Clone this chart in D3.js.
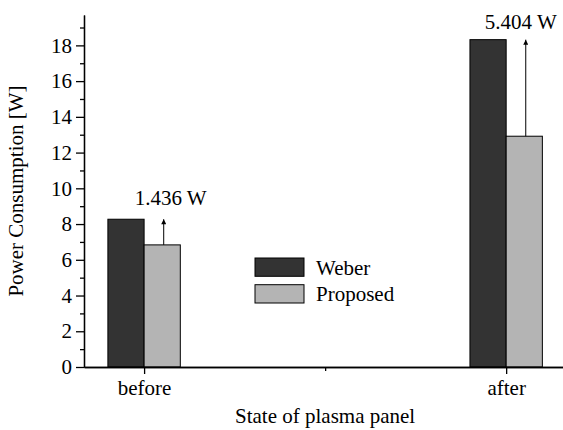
<!DOCTYPE html>
<html>
<head>
<meta charset="utf-8">
<script src="https://cdn.jsdelivr.net/npm/d3@7"></script>
<style>
  body { margin: 0; background: #fff; }
  svg text { font-family: "Liberation Serif", "DejaVu Serif", "Times New Roman", serif !important; fill: #000; }
</style>
</head>
<body>
<div id="chart"></div>
<script>
// data
var categories = ["before", "after"];
var weber = [8.27, 18.32];
var proposed = [6.834, 12.916];
var savings = ["1.436 W", "5.404 W"];
var seriesNames = ["Weber", "Proposed"];
var seriesColors = ["#333333", "#b4b4b4"];
var yTicks = [0, 2, 4, 6, 8, 10, 12, 14, 16, 18];

var width = 563, height = 430;
const svg = d3.select("#chart").append("svg")
   .attr("width", width)
   .attr("height", height);

// category 1 = before, 2 = after, half-way tick at 1.5
var x = d3.scaleLinear().domain([0.834, 2.157]).range([84, 563]);
var y = d3.scaleLinear().domain([0, 19.7]).range([367, 15]);
var barW = 0.1; //in category units

var bars = svg.append("g");
categories.forEach(function(c, i) {
  var cx = i + 1;
  bars.append("rect") //weber
    .attr("x", x(cx - barW))
    .attr("y", y(weber[i]))
    .attr("width", x(cx) - x(cx - barW))
    .attr("height", y(0) - y(weber[i]))
    .attr("fill", seriesColors[0])
    .attr("stroke", "#000")
    .attr("stroke-width", 1);
  bars.append("rect") //proposed
    .attr("x", x(cx))
    .attr("y", y(proposed[i]))
    .attr("width", x(cx + barW) - x(cx))
    .attr("height", y(0) - y(proposed[i]))
    .attr("fill", seriesColors[1])
    .attr("stroke", "#000")
    .attr("stroke-width", 1);
});

// arrows showing the saving
svg.append("defs").append("marker")
  .attr("id", "head")
  .attr("viewBox", "0 0 10 10")
  .attr("refX", 10).attr("refY", 5)
  .attr("markerWidth", 8).attr("markerHeight", 5)
  .attr("markerUnits", "userSpaceOnUse")
  .attr("orient", "auto")
  .append("path").attr("d", "M0,0 L10,5 L0,10 Z").attr("fill", "#000");

categories.forEach(function(c, i) {
  var ax = x(i + 1 + barW / 2) + 1.5;
  svg.append("line")
    .attr("x1", ax).attr("x2", ax)
    .attr("y1", y(proposed[i])).attr("y2", y(weber[i]))
    .attr("stroke", "#000").attr("stroke-width", 1)
    .attr("marker-end", "url(#head)");
  svg.append("text")
    .attr("x", ax + (i == 0 ? 7 : -5))
    .attr("y", y(weber[i]) - (i == 0 ? 14 : 11))
    .attr("text-anchor", "middle")
    .attr("font-size", 21)
    .text(savings[i]);
});

// axes
var yAxis = d3.axisLeft(y).tickValues(yTicks).tickSize(8).tickPadding(4).tickSizeOuter(0);
var yMinor = d3.axisLeft(y).tickValues(d3.range(1, 20, 2)).tickSize(4).tickFormat("").tickSizeOuter(0);
svg.append("g").attr("transform", "translate(84,0)").call(yAxis);
svg.append("g").attr("transform", "translate(84,0)").call(yMinor);

var xAxis = d3.axisBottom(x).tickValues([1, 2]).tickSize(7).tickPadding(6)
  .tickFormat(function(d) {return categories[d - 1];}).tickSizeOuter(0);
var xMinor = d3.axisBottom(x).tickValues([1.5]).tickSize(4).tickFormat("").tickSizeOuter(0);
svg.append("g").attr("transform", "translate(0,367)").call(xAxis);
svg.append("g").attr("transform", "translate(0,367)").call(xMinor);

svg.selectAll(".tick text").attr("font-size", 21);
svg.selectAll(".domain, .tick line").attr("stroke", "#000").attr("stroke-width", 1.3);

// axis titles
svg.append("text")
  .attr("x", x(1.5)).attr("y", 423)
  .attr("text-anchor", "middle")
  .attr("font-size", 21)
  .text("State of plasma panel");
svg.append("text")
  .attr("transform", "translate(23," + (y(0) + y(19.7)) / 2 + ") rotate(-90)")
  .attr("text-anchor", "middle")
  .attr("font-size", 21)
  .text("Power Consumption [W]");

// legend
var legend = svg.append("g").attr("transform", "translate(255,258)");
seriesNames.forEach(function(n, i) {
  legend.append("rect")
    .attr("x", 0).attr("y", i * 26.7)
    .attr("width", 49).attr("height", 18.3)
    .attr("fill", seriesColors[i])
    .attr("stroke", "#000").attr("stroke-width", 1);
  legend.append("text")
    .attr("x", 61).attr("y", i * 26.7 + 9.2)
    .attr("dy", "0.35em")
    .attr("font-size", 21)
    .text(n);
});
</script>
</body>
</html>
